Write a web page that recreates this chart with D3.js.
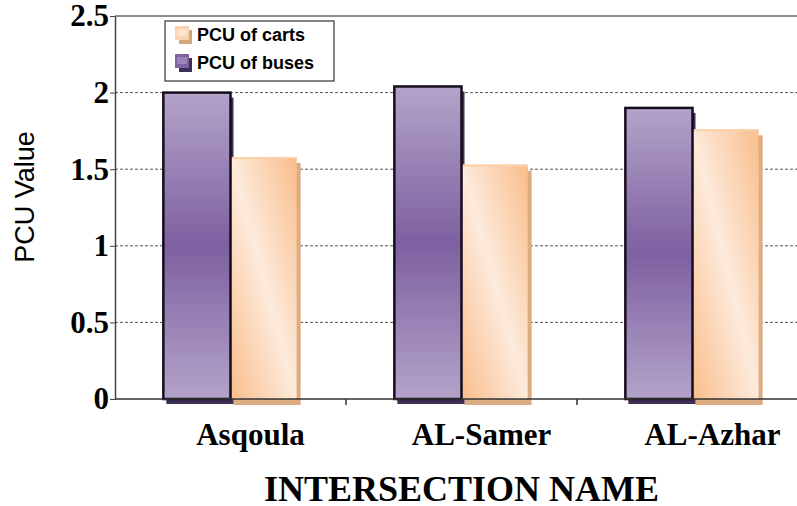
<!DOCTYPE html>
<html>
<head>
<meta charset="utf-8">
<script src="https://cdn.jsdelivr.net/npm/d3@7"></script>
<style>
  body { margin: 0; background: #fff; }
  svg { display: block; }
</style>
</head>
<body>
<div class="chart"></div>
<script>
// chart data
const categories = ["Asqoula", "AL-Samer", "AL-Azhar"];
const busPCU = [2.0, 2.04, 1.9];
const cartPCU = [1.58, 1.53, 1.76];
const yTicks = [0, 0.5, 1, 1.5, 2, 2.5];
const seriesNames = ["PCU of carts", "PCU of buses"];

// svg size
const width = 797,
      height = 506;

// plot area edges
const plotLeft = 115, plotRight = 808, plotTop = 16, plotBottom = 399;

const svg = d3.select(".chart")
              .append("svg")
              .attr("width", width)
              .attr("height", height);

// gradients
const defs = svg.append("defs");

const busGrad = defs.append("linearGradient")
                    .attr("id", "busGrad")
                    .attr("x1", 0).attr("y1", 0)
                    .attr("x2", 0).attr("y2", 1);
busGrad.append("stop").attr("offset", "0%").attr("stop-color", "#b3a3c9");
busGrad.append("stop").attr("offset", "50%").attr("stop-color", "#7e60a0");
busGrad.append("stop").attr("offset", "100%").attr("stop-color", "#b3a3c9");

const cartGrad = defs.append("linearGradient")
                     .attr("id", "cartGrad")
                     .attr("x1", 0).attr("y1", 1)
                     .attr("x2", 1).attr("y2", 0);
cartGrad.append("stop").attr("offset", "0%").attr("stop-color", "#f9bd8b");
cartGrad.append("stop").attr("offset", "50%").attr("stop-color", "#fdeadb");
cartGrad.append("stop").attr("offset", "100%").attr("stop-color", "#f9bd8b");

// scales
const x0 = d3.scaleBand()
             .domain(categories)
             .range([plotLeft, plotRight]);

const x1 = d3.scaleBand()
             .domain(["bus", "cart"])
             .range([0, x0.bandwidth()])
             .paddingOuter(0.72)
             .align(0.5);

const y = d3.scaleLinear()
            .domain([0, 2.5])
            .range([plotBottom, plotTop]);

// grid lines
svg.append("g")
   .selectAll("line")
   .data(yTicks.filter(t => t > 0 && t < 2.5))
   .enter()
     .append("line")
     .attr("x1", plotLeft).attr("x2", width)
     .attr("y1", d => y(d)).attr("y2", d => y(d))
     .attr("stroke", "#555")
     .attr("stroke-width", 1)
     .attr("stroke-dasharray", "3,2");

// top border
svg.append("line")
   .attr("x1", plotLeft).attr("x2", width)
   .attr("y1", y(2.5)).attr("y2", y(2.5))
   .attr("stroke", "#8e8e8e")
   .attr("stroke-width", 2);

// bar data
const rows = categories.map((c, i) => ({ cat: c, bus: busPCU[i], cart: cartPCU[i] }));

const groups = svg.append("g")
                  .selectAll("g")
                  .data(rows)
                  .enter()
                    .append("g")
                    .attr("transform", d => `translate(${x0(d.cat)},0)`);

// shadows
groups.append("rect")
      .attr("x", x1("cart") + 3)
      .attr("y", d => y(d.cart) + 6)
      .attr("width", x1.bandwidth())
      .attr("height", d => plotBottom - y(d.cart))
      .attr("fill", "#dcac82");

groups.append("rect")
      .attr("x", x1("bus") + 3)
      .attr("y", d => y(d.bus) + 5)
      .attr("width", x1.bandwidth())
      .attr("height", d => plotBottom - y(d.bus))
      .attr("fill", "#3e2f58");

// cart bars
groups.append("rect")
      .attr("x", x1("cart"))
      .attr("y", d => y(d.cart))
      .attr("width", x1.bandwidth() - 1)
      .attr("height", d => plotBottom - y(d.cart))
      .attr("fill", "url(#cartGrad)");

groups.append("line")
      .attr("x1", x1("cart")).attr("x2", x1("cart") + x1.bandwidth() - 1)
      .attr("y1", d => y(d.cart) + 1).attr("y2", d => y(d.cart) + 1)
      .attr("stroke", "#fbcfa8")
      .attr("stroke-width", 2);

// bus bars
groups.append("rect")
      .attr("x", x1("bus"))
      .attr("y", d => y(d.bus))
      .attr("width", x1.bandwidth())
      .attr("height", d => plotBottom - y(d.bus))
      .attr("fill", "url(#busGrad)")
      .attr("stroke", "#150d1c")
      .attr("stroke-width", 2.5);

// y axis
const yAxis = svg.append("g")
                 .attr("transform", `translate(${plotLeft},0)`)
                 .call(d3.axisLeft(y)
                         .tickValues(yTicks)
                         .tickFormat(d3.format("~g"))
                         .tickSize(5)
                         .tickSizeOuter(0));

yAxis.select(".domain").attr("stroke", "#444").attr("stroke-width", 1.5);
yAxis.selectAll(".tick line").attr("stroke", "#444");
yAxis.selectAll(".tick text")
     .attr("x", -6)
     .attr("font-family", "'Liberation Serif', serif")
     .attr("font-weight", "bold")
     .attr("font-size", 31)
     .attr("fill", "#000");

// x axis line and category boundary ticks
svg.append("line")
   .attr("x1", plotLeft).attr("x2", width)
   .attr("y1", plotBottom).attr("y2", plotBottom)
   .attr("stroke", "#333")
   .attr("stroke-width", 1.5);

svg.append("g")
   .selectAll("line")
   .data(categories.slice(1))
   .enter()
     .append("line")
     .attr("x1", d => x0(d)).attr("x2", d => x0(d))
     .attr("y1", plotBottom).attr("y2", plotBottom + 6)
     .attr("stroke", "#333")
     .attr("stroke-width", 1.5);

// category labels
svg.append("g")
   .selectAll("text")
   .data(categories)
   .enter()
     .append("text")
     .attr("x", d => x0(d) + x0.bandwidth() / 2 + 20)
     .attr("y", 445)
     .attr("text-anchor", "middle")
     .attr("font-family", "'Liberation Serif', serif")
     .attr("font-weight", "bold")
     .attr("font-size", 31)
     .text(d => d);

// axis titles
svg.append("text")
   .attr("x", (plotLeft + plotRight) / 2)
   .attr("y", 501)
   .attr("text-anchor", "middle")
   .attr("font-family", "'Liberation Serif', serif")
   .attr("font-weight", "bold")
   .attr("font-size", 36)
   .text("INTERSECTION NAME");

svg.append("text")
   .attr("transform", "translate(34,197) rotate(-90)")
   .attr("text-anchor", "middle")
   .attr("font-family", "'Liberation Sans', Arial, sans-serif")
   .attr("font-size", 27)
   .text("PCU Value");

// legend
const legend = svg.append("g")
                  .attr("transform", "translate(165,21)");

legend.append("rect")
      .attr("width", 169)
      .attr("height", 60)
      .attr("fill", "#fff")
      .attr("stroke", "#333")
      .attr("stroke-width", 1.2);

const legendColors = [
  { shadow: "#d5a57c", fill: "#fbd2b0", inner: "#fde9da" },
  { shadow: "#3e2f58", fill: "#7e62a2", inner: "#a594c0" }
];

const items = legend.selectAll(".item")
                    .data(seriesNames)
                    .enter()
                      .append("g")
                      .attr("class", "item")
                      .attr("transform", (d, i) => `translate(10,${5 + i * 28})`);

items.append("rect")
     .attr("x", 4).attr("y", 4)
     .attr("width", 13).attr("height", 14)
     .attr("fill", (d, i) => legendColors[i].shadow);

items.append("rect")
     .attr("width", 14).attr("height", 14)
     .attr("fill", (d, i) => legendColors[i].fill);

items.append("rect")
     .attr("x", 2).attr("y", 3)
     .attr("width", 10).attr("height", 7)
     .attr("fill", (d, i) => legendColors[i].inner)
     .attr("opacity", 0.7);

items.append("text")
     .attr("x", 22)
     .attr("y", 15)
     .attr("font-family", "'Liberation Sans', Arial, sans-serif")
     .attr("font-weight", "bold")
     .attr("font-size", 18)
     .text(d => d);
</script>
</body>
</html>
